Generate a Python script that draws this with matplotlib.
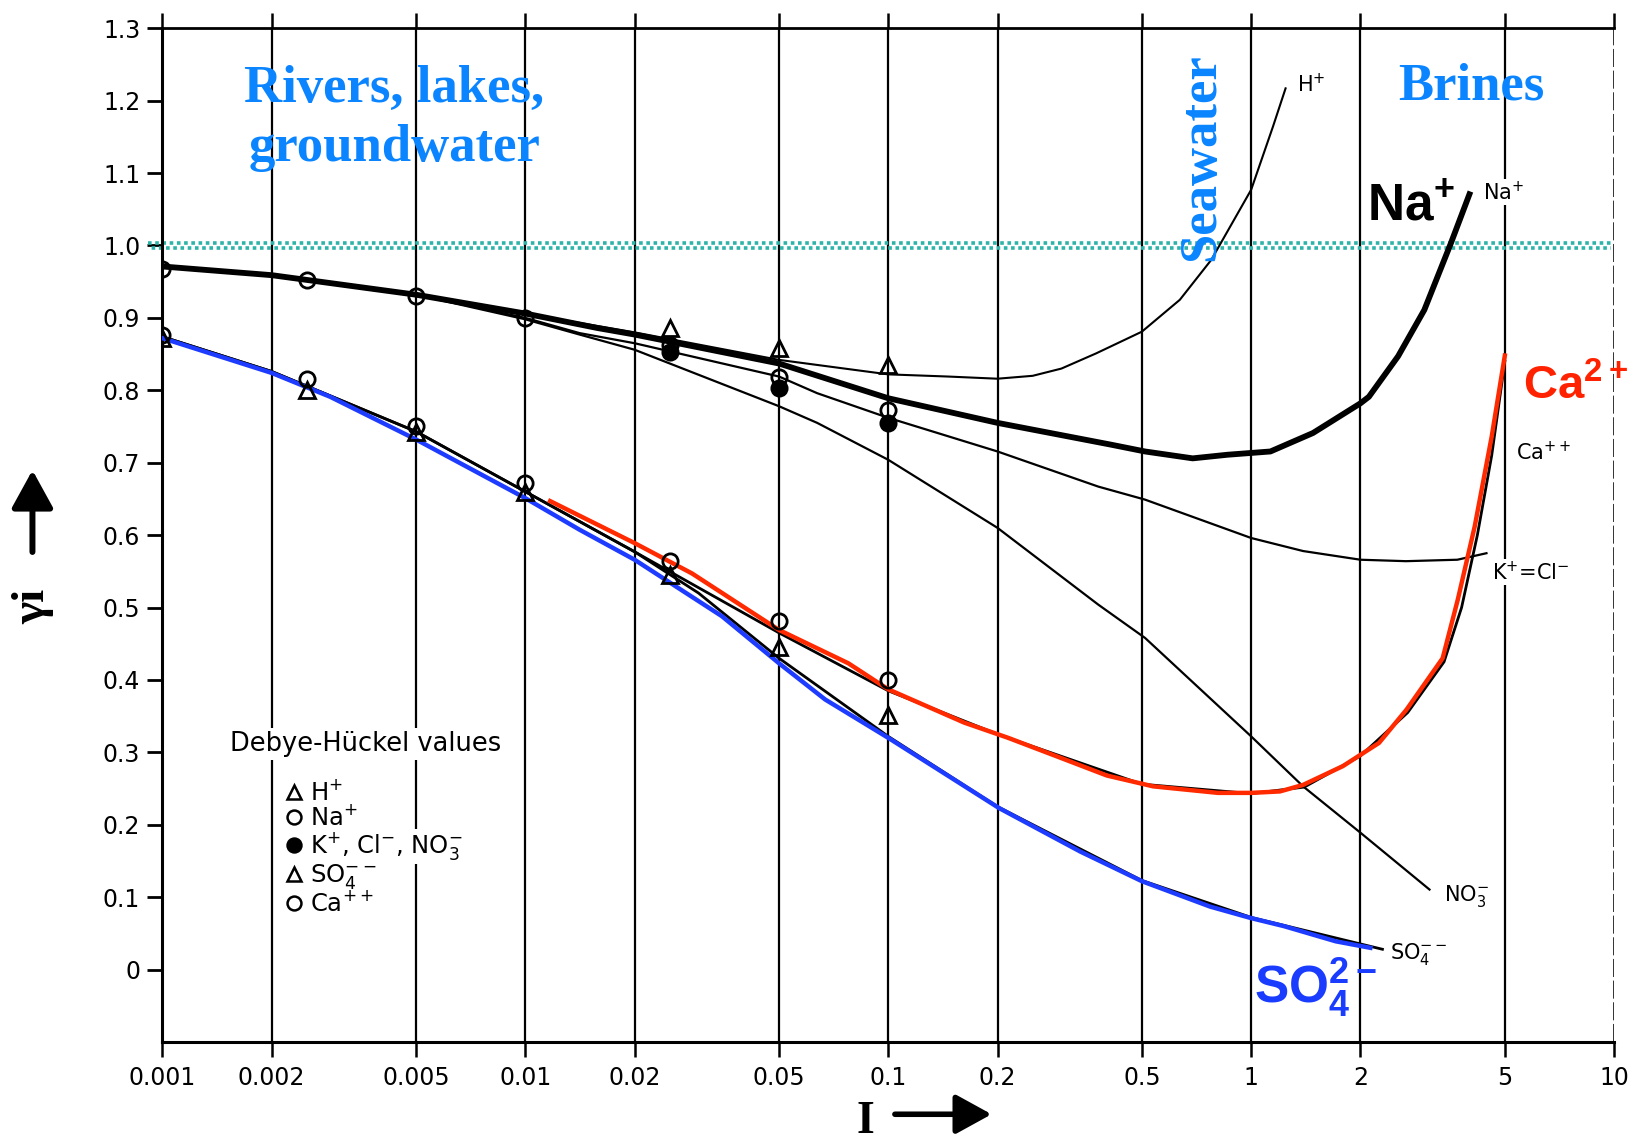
import matplotlib
matplotlib.use('Agg')
import matplotlib.pyplot as plt
from matplotlib.lines import Line2D
from matplotlib.patches import FancyArrowPatch

plt.rcParams['font.family'] = ['DejaVu Sans']
plt.rcParams['mathtext.fontset'] = 'custom'
plt.rcParams['mathtext.rm'] = 'DejaVu Sans'
plt.rcParams['mathtext.it'] = 'DejaVu Sans:italic'
plt.rcParams['mathtext.bf'] = 'Liberation Sans:bold'

# ---------------- data (ionic strength I, activity coefficient gamma) ----------------
na_I = [0.001, 0.002, 0.005, 0.01, 0.0158, 0.02, 0.05, 0.1, 0.2, 0.41, 0.51, 0.69, 0.861,
        1.13, 1.48, 2.0, 2.11, 2.54, 3.0, 3.55, 4.02]
na_g = [0.971, 0.959, 0.932, 0.906, 0.886, 0.877, 0.837, 0.789, 0.755, 0.725, 0.7155, 0.706,
        0.711, 0.7155, 0.741, 0.782, 0.791, 0.847, 0.911, 1.003, 1.0745]

h_I = [0.005, 0.01, 0.02, 0.05, 0.1, 0.146, 0.2, 0.25, 0.3, 0.374, 0.5, 0.636, 0.776, 1.0,
       1.148, 1.244]
h_g = [0.932, 0.906, 0.880, 0.842, 0.822, 0.819, 0.816, 0.820, 0.830, 0.851, 0.881, 0.925,
       0.980, 1.077, 1.164, 1.217]

kcl_I = [0.005, 0.01, 0.0141, 0.02, 0.05, 0.0637, 0.1, 0.2, 0.379, 0.51, 1.0, 1.39, 2.0,
         2.67, 3.7, 4.45]
kcl_g = [0.932, 0.900, 0.879, 0.865, 0.819, 0.796, 0.762, 0.7155, 0.667, 0.649, 0.596, 0.578,
         0.566, 0.564, 0.566, 0.575]

no3_I = [0.005, 0.01, 0.0141, 0.02, 0.05, 0.0637, 0.1, 0.2, 0.379, 0.51, 1.0, 1.39, 2.0, 3.1]
no3_g = [0.932, 0.898, 0.877, 0.856, 0.778, 0.755, 0.704, 0.610, 0.504, 0.458, 0.322, 0.253,
         0.189, 0.1105]

ca_dh_I = [0.001, 0.002, 0.005, 0.01, 0.02, 0.05, 0.1, 0.2, 0.5, 1.0, 1.4, 2.0, 2.7, 3.4, 3.8,
           4.2, 4.6, 5.0]
ca_dh_g = [0.874, 0.826, 0.743, 0.660, 0.577, 0.465, 0.385, 0.325, 0.256, 0.243, 0.252, 0.295,
           0.355, 0.425, 0.500, 0.600, 0.710, 0.840]

so4_dh_I = [0.001, 0.002, 0.005, 0.01, 0.02, 0.03, 0.05, 0.1, 0.2, 0.5, 1.0, 2.3]
so4_dh_g = [0.874, 0.826, 0.743, 0.660, 0.577, 0.520, 0.430, 0.322, 0.225, 0.123, 0.072, 0.028]

ca_I = [0.0117, 0.02, 0.0288, 0.05, 0.0776, 0.1, 0.162, 0.214, 0.3, 0.4, 0.537, 0.81, 1.0,
        1.2, 1.39, 1.79, 2.25, 2.68, 3.37, 3.71, 4.13, 4.6, 5.0]
ca_g = [0.647, 0.589, 0.547, 0.469, 0.423, 0.387, 0.341, 0.320, 0.292, 0.268, 0.253, 0.244,
        0.244, 0.246, 0.255, 0.281, 0.313, 0.359, 0.430, 0.511, 0.612, 0.736, 0.848]

so4_I = [0.001, 0.002, 0.0029, 0.005, 0.01, 0.0141, 0.02, 0.0348, 0.05, 0.067, 0.1, 0.202,
         0.338, 0.5, 0.77, 1.0, 1.23, 1.71, 2.13]
so4_g = [0.872, 0.824, 0.791, 0.732, 0.651, 0.6075, 0.566, 0.488, 0.423, 0.373, 0.320, 0.223,
         0.163, 0.122, 0.087, 0.071, 0.060, 0.039, 0.030]

# Debye-Hueckel points
dh_I = [0.001, 0.0025, 0.005, 0.01, 0.025, 0.05, 0.1]
dh_na = [0.968, 0.952, 0.930, 0.900, 0.862, 0.819, 0.773]
dh_ca = [0.877, 0.815, 0.750, 0.672, 0.564, 0.481, 0.400]
dh_so4 = [0.872, 0.801, 0.743, 0.660, 0.545, 0.446, 0.352]
dh_hk_I = [0.025, 0.05, 0.1]
dh_h = [0.886, 0.859, 0.835]
dh_k = [0.853, 0.803, 0.755]

x_ticks = [0.001, 0.002, 0.005, 0.01, 0.02, 0.05, 0.1, 0.2, 0.5, 1, 2, 5, 10]
x_labels = ['0.001', '0.002', '0.005', '0.01', '0.02', '0.05', '0.1', '0.2', '0.5', '1', '2', '5', '10']
y_ticks = [0, 0.1, 0.2, 0.3, 0.4, 0.5, 0.6, 0.7, 0.8, 0.9, 1.0, 1.1, 1.2, 1.3]
y_labels = ['0', '0.1', '0.2', '0.3', '0.4', '0.5', '0.6', '0.7', '0.8', '0.9', '1.0', '1.1', '1.2', '1.3']

legend_labels = [r'H$^{+}$', r'Na$^{+}$', r'K$^{+}$, Cl$^{-}$, NO$_{3}^{-}$', r'SO$_{4}^{--}$', r'Ca$^{++}$']

# ---------------- figure ----------------
fig = plt.figure(figsize=(16.39, 11.44), dpi=100)
ax = fig.add_axes([0.0991, 0.0892, 0.8857, 0.8861])
ax.set_xscale('log')
ax.set_xlim(0.001, 10)
ax.set_ylim(-0.1, 1.3)

# vertical grid lines
for xv in x_ticks[:-1]:
    ax.axvline(xv, color='black', lw=1.6, zorder=1)
ax.axvline(x_ticks[-1], color='#222222', lw=1.3, ls=(0, (10, 2)), zorder=1)

# dotted teal line at gamma = 1
teal = '#2db3a8'
ax.axhline(1.004, xmin=-0.01, xmax=0.998, color=teal, lw=2.6, ls=(0, (1, 1)), zorder=2, clip_on=False)
ax.axhline(0.996, xmin=-0.01, xmax=0.998, color=teal, lw=2.6, ls=(1, (1, 1)), zorder=2, clip_on=False)

# black curves
ax.plot(h_I, h_g, color='black', lw=1.5, zorder=3)
ax.plot(kcl_I, kcl_g, color='black', lw=1.6, zorder=3)
ax.plot(no3_I, no3_g, color='black', lw=1.6, zorder=3)
ax.plot(ca_dh_I, ca_dh_g, color='black', lw=2.0, zorder=3)
ax.plot(so4_dh_I, so4_dh_g, color='black', lw=2.0, zorder=3)
ax.plot(na_I, na_g, color='black', lw=4.2, zorder=4, solid_capstyle='butt')

# coloured curves
ax.plot(ca_I, ca_g, color='#ff2a00', lw=3.2, zorder=5)
ax.plot(so4_I, so4_g, color='#1e3cff', lw=3.2, zorder=5)

# Debye-Hueckel markers
mk = dict(ls='none', mec='black', mew=2.0, ms=11, zorder=6)
ax.plot(dh_I, dh_na, marker='o', mfc='none', **mk)
ax.plot(dh_I, dh_ca, marker='o', mfc='none', **mk)
ax.plot(dh_I, dh_so4, marker='^', mfc='none', **mk)
ax.plot(dh_hk_I, dh_h, marker='^', mfc='none', **mk)
ax.plot(dh_hk_I, dh_k, marker='o', mfc='black', **mk)

# axes styling
ax.spines['right'].set_visible(False)
ax.spines['left'].set_linewidth(2.2)
ax.spines['bottom'].set_linewidth(2.2)
ax.spines['top'].set_linewidth(2.0)

ax.set_xticks(x_ticks)
ax.set_xticklabels(x_labels)
ax.xaxis.set_minor_locator(matplotlib.ticker.NullLocator())
ax.set_yticks(y_ticks)
ax.set_yticklabels(y_labels)
ax.tick_params(axis='x', which='major', direction='out', length=11, width=1.8, pad=6,
               labelsize=17, top=True)
ax.tick_params(axis='y', which='major', direction='out', length=11, width=2.0, pad=5,
               labelsize=17)

# legend of Debye-Hueckel values
ax.text(0.0468, 0.294, 'Debye-Hückel values', transform=ax.transAxes, fontsize=18.5,
        ha='left', va='center', zorder=10,
        bbox=dict(facecolor='white', edgecolor='none', pad=2))
handles = [
    Line2D([], [], marker='^', ls='none', mfc='none', mec='black', mew=1.8, ms=10),
    Line2D([], [], marker='o', ls='none', mfc='none', mec='black', mew=1.8, ms=10),
    Line2D([], [], marker='o', ls='none', mfc='black', mec='black', mew=1.8, ms=10),
    Line2D([], [], marker='^', ls='none', mfc='none', mec='black', mew=1.8, ms=10),
    Line2D([], [], marker='o', ls='none', mfc='none', mec='black', mew=1.8, ms=10),
]
leg = ax.legend(handles, legend_labels, loc='upper left',
                bbox_to_anchor=(0.085, 0.258), frameon=False, fontsize=17.5,
                handlelength=0.7, handletextpad=0.3, labelspacing=0.0, borderpad=0,
                borderaxespad=0)
leg.set_zorder(10)
for t in leg.get_texts():
    t.set_bbox(dict(facecolor='white', edgecolor='none', pad=1))

# small curve labels
small = dict(fontsize=15, color='black', ha='left', va='baseline', zorder=7,
             bbox=dict(facecolor='white', edgecolor='none', pad=1))
ax.text(1.34, 1.212, r'H$^{+}$', **small)
ax.text(4.35, 1.063, r'Na$^{+}$', **small)
ax.text(5.35, 0.704, r'Ca$^{++}$', **small)
ax.text(4.6, 0.538, r'K$^{+}$=Cl$^{-}$', **small)
ax.text(3.4, 0.094, r'NO$_{3}^{-}$', **small)
ax.text(2.42, 0.014, r'SO$_{4}^{--}$', **small)

# region labels
blue_txt = '#0a85ff'
serif = dict(family='Liberation Serif', weight='bold', color=blue_txt, fontsize=38, zorder=8)
ax.text(0.00436, 1.175, 'Rivers, lakes,\ngroundwater', ha='center', va='center',
        multialignment='center', linespacing=1.3, **serif)
ax.text(0.73, 1.122, 'Seawater', rotation=90, ha='center', va='center', **serif)
ax.text(4.05, 1.220, 'Brines', ha='center', va='center', **serif)

# big ion labels
ax.text(2.08, 1.035, r'$\mathbf{Na^{+}}$', fontsize=37, color='black', ha='left',
        va='baseline', zorder=8)
ax.text(5.6, 0.787, r'$\mathbf{Ca^{2+}}$', fontsize=34, color='#ff2200', ha='left',
        va='baseline', zorder=8, clip_on=False)
ax.text(1.02, -0.0455, r'$\mathbf{SO_{4}^{2-}}$', fontsize=37, color='#1a3cff', ha='left',
        va='baseline', zorder=8)

# axis labels with arrows
fig.text(0.0205, 0.470, 'γi', rotation=90, ha='center', va='center',
         family='Liberation Serif', weight='bold', fontsize=34)
fig.add_artist(FancyArrowPatch((0.0198, 0.5175), (0.0198, 0.589), transform=fig.transFigure,
                               arrowstyle='-|>,head_length=0.4,head_width=0.22', mutation_scale=58,
                               lw=4.3, color='black', shrinkA=0, shrinkB=0))
fig.text(0.528, 0.010, 'I', ha='center', va='baseline', family='Liberation Serif',
         weight='bold', fontsize=33)
fig.add_artist(FancyArrowPatch((0.546, 0.026), (0.605, 0.026), transform=fig.transFigure,
                               arrowstyle='-|>,head_length=0.4,head_width=0.22', mutation_scale=55,
                               lw=4.0, color='black', shrinkA=0, shrinkB=0))

fig.savefig('out.png', dpi=100, facecolor='white')
